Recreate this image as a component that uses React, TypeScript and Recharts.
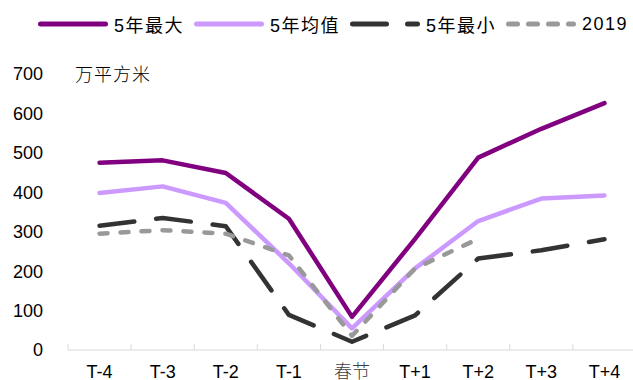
import { Line, LineChart, XAxis, YAxis } from 'recharts';

const categories = ['T-4', 'T-3', 'T-2', 'T-1', '春节', 'T+1', 'T+2', 'T+3', 'T+4'];
const max5 = [475, 481, 449, 333, 84, 282, 488, 561, 626];
const avg5 = [398, 415, 373, 220, 55, 207, 327, 384, 392];
const min5 = [315, 335, 314, 89, 21, 88, 232, 253, 281];
const y2019 = [295, 304, 295, 240, 36, 207, 282, null, null];
const yTicks = [0, 100, 200, 300, 400, 500, 600, 700];

const W = 633;
const H = 380;
const LEFT = 68;
const RIGHT = -3;
const TOP = 74;
const XH = 30;
const LABEL_GAP = 15;
const BAND = (W - LEFT - RIGHT) / categories.length;

const LATIN = '"Liberation Sans", Arial, "Noto Sans CJK SC", sans-serif';

const series = [
  { key: 'max5', name: '5年最大', color: '#800080', dash: undefined, legendDash: undefined },
  { key: 'avg5', name: '5年均值', color: '#CC99FF', dash: undefined, legendDash: undefined },
  { key: 'min5', name: '5年最小', color: '#333333', dash: '35 22', legendDash: '34 21' },
  { key: 'y2019', name: '2019', color: '#999999', dash: '8 13', legendDash: '9 11' },
];

const data = categories.map((cat, i) => ({
  cat,
  max5: max5[i],
  avg5: avg5[i],
  min5: min5[i],
  y2019: y2019[i],
}));

function XTick(props: any) {
  const { x, y, payload, index } = props;
  const half = payload?.offset || BAND / 2;
  const axisY = y - LABEL_GAP;
  const isCjk = /[\u4e00-\u9fff]/.test(String(payload.value));
  return (
    <g>
      <line x1={x - half} x2={x - half} y1={axisY} y2={axisY - 6} stroke="#D9D9D9" strokeWidth={1} />
      {index === categories.length - 1 && (
        <line x1={x + half} x2={x + half} y1={axisY} y2={axisY - 6} stroke="#D9D9D9" strokeWidth={1} />
      )}
      <text
        x={x}
        y={y}
        dy="0.71em"
        textAnchor="middle"
        fontSize={18}
        fill={isCjk ? '#404040' : '#000'}
        fontWeight={isCjk ? 300 : 400}
        fontFamily={LATIN}
      >
        {payload.value}
      </text>
    </g>
  );
}

function ChartLegend() {
  return (
    <div
      style={{
        position: 'absolute',
        left: 38,
        top: 12,
        display: 'flex',
        alignItems: 'center',
        fontFamily: LATIN,
        fontSize: 18,
        letterSpacing: 1.5,
        color: '#000',
        whiteSpace: 'nowrap',
      }}
    >
      {series.map(s => (
        <div key={s.key} style={{ display: 'flex', alignItems: 'center', marginRight: 10, height: 24 }}>
          <svg width={70} height={10} style={{ display: 'block' }}>
            <line
              x1={2.5}
              x2={67.5}
              y1={5}
              y2={5}
              stroke={s.color}
              strokeWidth={5}
              strokeLinecap="round"
              strokeDasharray={s.legendDash}
            />
          </svg>
          <span style={{ marginLeft: 6 }}>{s.name}</span>
        </div>
      ))}
    </div>
  );
}

export default function App() {
  return (
    <div style={{ position: 'absolute', left: 0, top: 0, width: W, height: H, background: '#fff', overflow: 'hidden' }}>
      <LineChart width={W} height={H} data={data} margin={{ top: TOP, right: RIGHT, bottom: 0, left: 0 }}>
        <XAxis
          dataKey="cat"
          scale="band"
          height={XH}
          interval={0}
          axisLine={{ stroke: '#D9D9D9', strokeWidth: 1 }}
          tickLine={false}
          tickSize={0}
          tickMargin={LABEL_GAP}
          tick={<XTick />}
        />
        <YAxis
          width={LEFT}
          domain={[0, 700]}
          ticks={yTicks}
          interval={0}
          axisLine={false}
          tickLine={false}
          tickSize={0}
          tickMargin={25}
          tick={{ fill: '#000', fontSize: 18, fontFamily: LATIN }}
        />
        {series.map(s => (
          <Line
            key={s.key}
            dataKey={s.key}
            name={s.name}
            type="linear"
            stroke={s.color}
            strokeWidth={4.5}
            strokeDasharray={s.dash}
            strokeLinecap="round"
            strokeLinejoin="round"
            dot={false}
            activeDot={false}
            connectNulls={false}
            isAnimationActive={false}
          />
        ))}
      </LineChart>
      <div
        style={{
          position: 'absolute',
          left: 75,
          top: 60,
          fontFamily: '"Noto Sans CJK SC", sans-serif',
          fontSize: 18,
          fontWeight: 300,
          letterSpacing: 1,
          color: '#000',
        }}
      >
        万平方米
      </div>
      <ChartLegend />
    </div>
  );
}
